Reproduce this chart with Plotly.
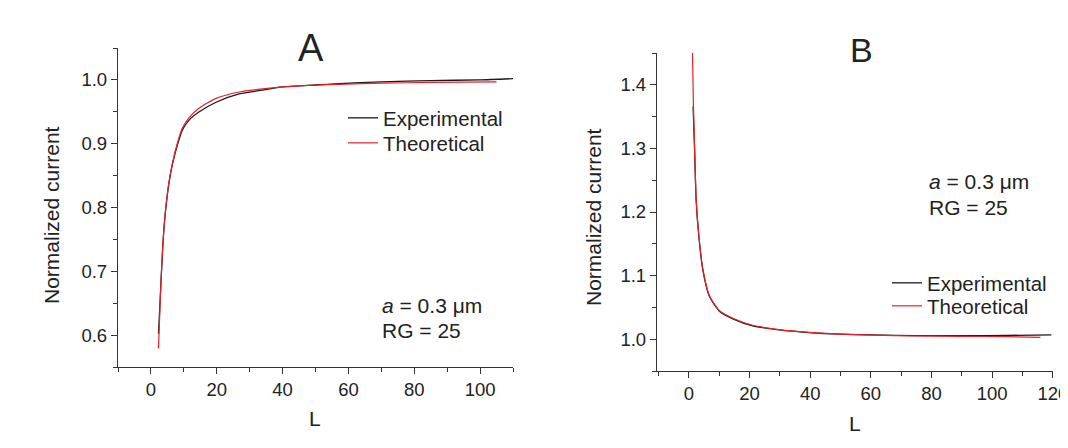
import plotly.graph_objects as go

# panel A data
a_exp_L = [2.3, 3.0, 3.7, 4.5, 5.5, 6.6, 8.1, 9.6, 11.6, 14.7, 19.8, 26.8, 33.9, 40, 50, 57, 70, 85, 100, 110]
a_exp_I = [0.602, 0.677, 0.748, 0.798, 0.839, 0.869, 0.899, 0.922, 0.937, 0.950, 0.965, 0.978, 0.984, 0.989, 0.992, 0.994, 0.997, 0.999, 1.000, 1.002]
a_theo_L = [2.3, 3.0, 3.7, 4.5, 5.5, 6.6, 8.1, 9.6, 11.6, 14.7, 19.8, 26.8, 33.9, 40, 50, 57, 70, 85, 105]
a_theo_I = [0.579, 0.677, 0.748, 0.798, 0.840, 0.871, 0.902, 0.925, 0.941, 0.956, 0.971, 0.981, 0.986, 0.989, 0.992, 0.993, 0.995, 0.996, 0.997]

# panel B data
b_exp_L = [1.4, 1.9, 2.4, 3.3, 4.6, 6.8, 10.1, 14.5, 21, 29.8, 39.7, 49.6, 60.5, 75, 90, 105, 119.5]
b_exp_I = [1.366, 1.298, 1.219, 1.161, 1.109, 1.067, 1.044, 1.032, 1.021, 1.0146, 1.0104, 1.0079, 1.0068, 1.0056, 1.0055, 1.006, 1.0068]
b_theo_L = [1.2, 1.5, 1.9, 2.4, 3.3, 4.6, 6.8, 10.1, 14.5, 21, 29.8, 39.7, 49.6, 60.5, 75, 90, 105, 115.9]
b_theo_I = [1.45, 1.37, 1.300, 1.221, 1.163, 1.111, 1.068, 1.045, 1.033, 1.022, 1.015, 1.0106, 1.008, 1.0065, 1.005, 1.0045, 1.004, 1.003]

names = ["Experimental", "Theoretical"]
BLACK = "#1a1a1a"
RED = "#e8202a"
FONT = "Liberation Sans, Arial, sans-serif"
TXT = "#222222"

W, H = 1068, 448
OFF = 8  # page body margin in the browser

def px(x):
    return (x - OFF) / W

def py(y):
    return 1 - (y - OFF) / H

fig = go.Figure()
fig.add_trace(go.Scatter(x=a_exp_L, y=a_exp_I, mode="lines", name=names[0],
                         line=dict(color=BLACK, width=1.3, shape="spline", smoothing=0.6),
                         xaxis="x", yaxis="y", legend="legend"))
fig.add_trace(go.Scatter(x=a_theo_L, y=a_theo_I, mode="lines", name=names[1],
                         line=dict(color=RED, width=1.2, shape="spline", smoothing=0.6),
                         xaxis="x", yaxis="y", legend="legend2"))
fig.add_trace(go.Scatter(x=b_exp_L, y=b_exp_I, mode="lines", name=names[0],
                         line=dict(color=BLACK, width=1.3, shape="spline", smoothing=0.6),
                         xaxis="x2", yaxis="y2", legend="legend3"))
fig.add_trace(go.Scatter(x=b_theo_L, y=b_theo_I, mode="lines", name=names[1],
                         line=dict(color=RED, width=1.2, shape="spline", smoothing=0.6),
                         xaxis="x2", yaxis="y2", legend="legend4"))

axis_common = dict(showline=True, linecolor="#333333", linewidth=1.3, showgrid=False,
                   zeroline=False, ticks="outside", ticklen=6, tickwidth=1.2,
                   tickcolor="#333333", tickfont=dict(size=18.5, color=TXT, family=FONT),
                   automargin=False)
minor_x = dict(ticks="outside", ticklen=4, dtick=10, tickcolor="#333333")
minor_y = dict(ticks="outside", ticklen=4, dtick=0.05, tickcolor="#333333")

def leg(x_text, y_center):
    # text starts ~40px right of the legend's left edge, row centre ~19px below top
    return dict(x=px(x_text - 40), y=py(y_center - 19), xanchor="left", yanchor="top",
                bgcolor="rgba(0,0,0,0)", font=dict(size=20.5, color=TXT, family=FONT),
                itemwidth=30)

fig.update_layout(
    width=W, height=H,
    margin=dict(l=0, r=0, t=0, b=0, autoexpand=False),
    paper_bgcolor="white", plot_bgcolor="white",
    font=dict(family=FONT, color=TXT),
    showlegend=True,
    xaxis=dict(axis_common, domain=[px(118), px(513)], range=[-10, 110], dtick=20,
               minor=minor_x, anchor="y"),
    yaxis=dict(axis_common, domain=[py(367), py(48)], range=[0.55, 1.05], dtick=0.1,
               tickformat=".1f", minor=minor_y, anchor="x"),
    xaxis2=dict(axis_common, domain=[px(657), px(1053)], range=[-10.5, 120.05], dtick=20,
                minor=minor_x, anchor="y2"),
    yaxis2=dict(axis_common, domain=[py(371), py(53)], range=[0.95, 1.45], dtick=0.1,
                tickformat=".1f", minor=minor_y, anchor="x2"),
    legend=leg(383, 117),
    legend2=leg(383, 142),
    legend3=leg(927, 282),
    legend4=leg(927, 305),
)

ann = [
    dict(text="A", x=px(311), y=py(48), font=dict(size=38)),
    dict(text="B", x=px(861), y=py(50), font=dict(size=34)),
    dict(text="L", x=px(315), y=py(418), font=dict(size=21)),
    dict(text="L", x=px(855), y=py(423), font=dict(size=21)),
    dict(text="Normalized current", x=px(51), y=py(215), textangle=-90, font=dict(size=21)),
    dict(text="Normalized current", x=px(593), y=py(217), textangle=-90, font=dict(size=21)),
    dict(text="<i>a</i> = 0.3 μm", x=px(380), y=py(305), xanchor="left", font=dict(size=21)),
    dict(text="RG = 25", x=px(380), y=py(330), xanchor="left", font=dict(size=21)),
    dict(text="<i>a</i> = 0.3 μm", x=px(927), y=py(181), xanchor="left", font=dict(size=21)),
    dict(text="RG = 25", x=px(927), y=py(207), xanchor="left", font=dict(size=21)),
]
for a in ann:
    a.setdefault("xanchor", "center")
    a.setdefault("yanchor", "middle")
    a["xref"] = "paper"
    a["yref"] = "paper"
    a["showarrow"] = False
    a["font"] = dict(a["font"], family=FONT, color=TXT)
    fig.add_annotation(**a)

fig.write_html("out.html")
